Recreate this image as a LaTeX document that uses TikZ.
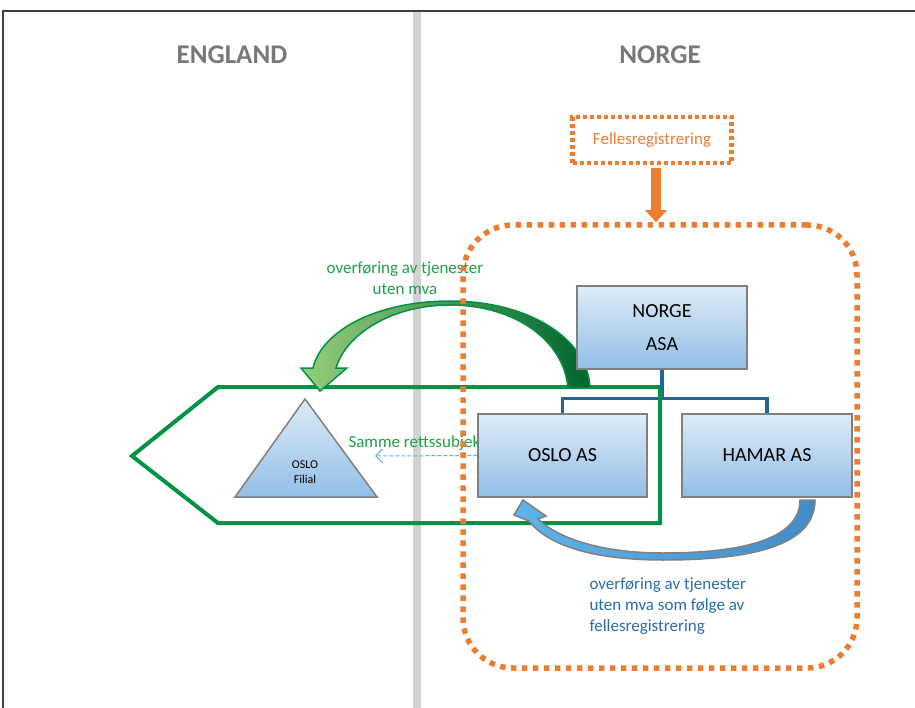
\documentclass[tikz,border=0pt]{standalone}
\usepackage{fontspec}
\setmainfont{Carlito}
\usetikzlibrary{arrows.meta}
\definecolor{orng}{RGB}{237,125,49}
\definecolor{dgreen}{RGB}{0,146,69}
\definecolor{tgreen}{RGB}{30,160,75}
\definecolor{orgblue}{RGB}{36,100,150}
\definecolor{txtblue}{RGB}{40,110,170}
\definecolor{boxtop}{RGB}{222,235,247}
\definecolor{boxbot}{RGB}{146,190,230}
\definecolor{boxline}{RGB}{128,128,128}
\definecolor{divgray}{RGB}{210,210,210}
\definecolor{titlegray}{RGB}{120,120,120}
\definecolor{dashblue}{RGB}{90,175,225}
\definecolor{glight}{RGB}{150,205,125}
\definecolor{gdark}{RGB}{0,100,45}
\definecolor{blight}{RGB}{95,180,235}
\definecolor{bdark}{RGB}{65,140,200}
\begin{document}
\begin{tikzpicture}[x=1pt,y=-1pt,
  entity/.style={draw=boxline, line width=1.2pt, top color=boxtop, bottom color=boxbot,
    minimum height=83pt, inner sep=0pt, align=center, font=\fontsize{20}{33}\selectfont},
  title/.style={font=\fontsize{27}{30}\selectfont\bfseries, text=titlegray},
  orgline/.style={orgblue, line width=3.5pt},
  greenframe/.style={dgreen, line width=4pt, line join=miter},
  label/.style={font=\fontsize{17}{21}\selectfont}]
\useasboundingbox (0,0) rectangle (915,708);
% frame and divider
\fill[divgray] (413,11) rectangle (421,708);
\draw[line width=1.3pt, black!75] (3,708) -- (3,11) -- (915,11);
\node[title] (eng) at (232,55) {ENGLAND};
\node[title] (nor) at (660,55) {NORGE};
% Fellesregistrering
\node[draw=orng, line width=4.5pt, dash pattern=on 4pt off 3pt, minimum width=159pt,
  minimum height=46pt, text=orng, label] (fell) at (652,140) {Fellesregistrering};
% green frame (pentagon)
\draw[greenframe] (218,387) -- (660,387) -- (660,523) -- (218,523) -- (132,456) -- cycle;
% green curved arrow
\path[draw=dgreen, line width=1.5pt, left color=glight, right color=gdark]
  (590,388) .. controls (588,338) and (528,301) .. (450,301)
  .. controls (378,301) and (322,330) .. (313,368)
  -- (301,368) -- (320,391) -- (347,368) -- (336,368)
  .. controls (346,334) and (392,305) .. (450,305)
  .. controls (514,305) and (564,340) .. (568,388) -- cycle;
\node[label, text=tgreen, align=center] (gtxt) at (405,278) {overføring av tjenester\\uten mva};
% triangle filial
\path[draw=boxline, line width=1.5pt, top color=boxtop, bottom color=boxbot]
  (305,399) -- (377,497) -- (235,497) -- cycle;
\node[font=\fontsize{12}{15}\selectfont, align=center] (filial) at (305,472) {OSLO\\Filial};
% samme rettssubjekt
\node[font=\fontsize{17}{19}\selectfont, text=tgreen, anchor=west] (same) at (345,443) {Samme rettssubjekt};
% boxes
\node[entity, minimum width=170pt] (asa) at (662,327.5) {NORGE\\ASA};
\node[entity, minimum width=169pt] (oslo) at (562.5,455.5) {OSLO AS};
\node[entity, minimum width=170pt] (hamar) at (767,455.5) {HAMAR AS};
\draw[orgline] (asa.south) -- ++(0,30);
\draw[orgline, line join=miter] (oslo.north) -- ++(0,-15) -| (hamar.north);
\draw[greenframe] (660,387) -- (660,523);
% dashed arrow
\coordinate (samtip) at (375,456);
\draw[dashblue, line width=1pt, dash pattern=on 4pt off 2pt, -{Straight Barb[length=7pt,width=14pt]}]
  (oslo.west) -- (samtip);
% blue curved arrow
\path[draw=boxline, line width=1.5pt, left color=blight, right color=bdark]
  (815,500) .. controls (815,548) and (745,560) .. (663,560)
  .. controls (600,560) and (550,548) .. (529,521)
  -- (514,515) -- (523,500) -- (546,516) -- (538,519)
  .. controls (560,540) and (605,553) .. (663,553)
  .. controls (740,553) and (800,540) .. (800,500) -- cycle;
\node[label, text=txtblue, align=left, anchor=west] (btxt) at (586,606)
  {overføring av tjenester\\uten mva som følge av\\fellesregistrering};
% orange group and arrow
\node[draw=orng, line width=5.5pt, dash pattern=on 5.5pt off 5.5pt, rounded corners=50pt,
  minimum width=394pt, minimum height=443pt] (grp) at (660,446.5) {};
\draw[orng, line width=10pt, -{Triangle[length=12pt,width=21pt]}]
  ([xshift=4pt,yshift=-3pt]fell.south) -- ([xshift=-4pt]grp.north);
\end{tikzpicture}
\end{document}
